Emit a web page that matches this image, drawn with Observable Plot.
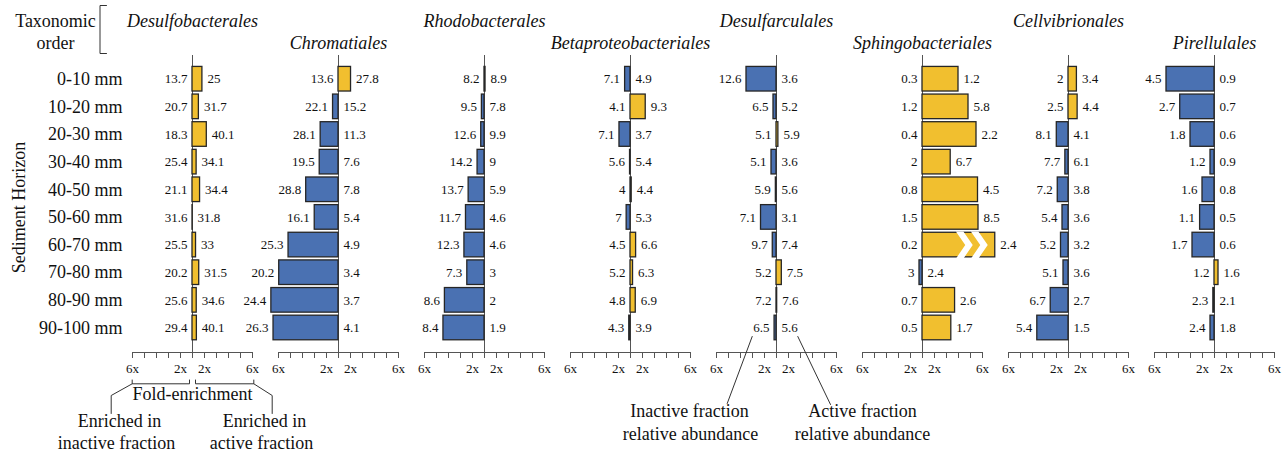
<!DOCTYPE html>
<html><head><meta charset="utf-8">
<script src="https://cdn.jsdelivr.net/npm/d3@7"></script>
<script src="https://cdn.jsdelivr.net/npm/@observablehq/plot@0.6"></script>
<style>body{margin:0;background:#fff}</style>
</head><body><div id="chart"></div>
<script>
// ---- data ----
const orders = ["Desulfobacterales","Chromatiales","Rhodobacterales","Betaproteobacteriales","Desulfarculales","Sphingobacteriales","Cellvibrionales","Pirellulales"];
const horizons = ["0-10 mm","10-20 mm","20-30 mm","30-40 mm","40-50 mm","50-60 mm","60-70 mm","70-80 mm","80-90 mm","90-100 mm"];
// relative abundance (%) in the inactive fraction, one list per order
const inactiveFraction = [
  [13.7,20.7,18.3,25.4,21.1,31.6,25.5,20.2,25.6,29.4],
  [13.6,22.1,28.1,19.5,28.8,16.1,25.3,20.2,24.4,26.3],
  [8.2,9.5,12.6,14.2,13.7,11.7,12.3,7.3,8.6,8.4],
  [7.1,4.1,7.1,5.6,4,7,4.5,5.2,4.8,4.3],
  [12.6,6.5,5.1,5.1,5.9,7.1,9.7,5.2,7.2,6.5],
  [0.3,1.2,0.4,2,0.8,1.5,0.2,3,0.7,0.5],
  [2,2.5,8.1,7.7,7.2,5.4,5.2,5.1,6.7,5.4],
  [4.5,2.7,1.8,1.2,1.6,1.1,1.7,1.2,2.3,2.4]
];
// relative abundance (%) in the active fraction, one list per order
const activeFraction = [
  [25,31.7,40.1,34.1,34.4,31.8,33,31.5,34.6,40.1],
  [27.8,15.2,11.3,7.6,7.8,5.4,4.9,3.4,3.7,4.1],
  [8.9,7.8,9.9,9,5.9,4.6,4.6,3,2,1.9],
  [4.9,9.3,3.7,5.4,4.4,5.3,6.6,6.3,6.9,3.9],
  [3.6,5.2,5.9,3.6,5.6,3.1,7.4,7.5,7.6,5.6],
  [1.2,5.8,2.2,6.7,4.5,8.5,2.4,2.4,2.6,1.7],
  [3.4,4.4,4.1,6.1,3.8,3.6,3.2,3.6,2.7,1.5],
  [0.9,0.7,0.6,0.9,0.8,0.5,0.6,1.6,2.1,1.8]
];
// fold-enrichment axis: signed (fold - 1)
const foldTicks = [-5,-4,-3,-2,-1,0,1,2,3,4,5];
const foldTickLabels = ["6x","","","","2x","","2x","","","","6x"];

// ---- layout ----
const W = 1288, H = 454, mL = 119, mR = 1, mT = 55, mB = 102;
const facetW = (W - mL - mR) / orders.length;
const pxPerFold = 12;
const xHalf = facetW / 2 / pxPerFold;
const rowTop = 64.9, rowStep = 27.64;
const yRange = [rowTop, rowTop + rowStep * horizons.length];
const CAP = xHalf - 0.02;
const yellow = "#F1BF2F", blue = "#4A71B2", barStroke = "#262626", axisColor = "#555";
const font = "'Liberation Serif','Times New Roman',serif";

const xd = (px, k) => (px - (mL + k * facetW + facetW / 2)) / pxPerFold;
const yd = (py) => (py - rowTop) / rowStep - 0.5;

// ---- derived table ----
const rows = [];
orders.forEach((o, k) => horizons.forEach((h, i) => {
  const a = activeFraction[k][i], n = inactiveFraction[k][i];
  const up = a >= n;
  const fold = up ? a / n : n / a;
  const s = (up ? 1 : -1) * (fold - 1);
  const sd = Math.max(-CAP, Math.min(CAP, s));
  rows.push({order: o, i, horizon: h, inactive: n, active: a, s, sd, broken: Math.abs(s) > CAP});
}));
const chevrons = rows.filter(d => d.broken).flatMap(d => [2.58, 1.33].map(off => ({order: d.order, i: d.i, x: d.sd - Math.sign(d.sd) * off})));
const tickRows = orders.flatMap(o => foldTicks.map((v, j) => ({order: o, v, label: foldTickLabels[j]})));

const chevronSymbol = {draw(ctx, size) {
  const r = Math.sqrt(size / Math.PI);
  const h = r, w = r * 0.62, t = r * 0.55;
  ctx.moveTo(-w, -h); ctx.lineTo(-w + t, -h); ctx.lineTo(w, 0);
  ctx.lineTo(-w + t, h); ctx.lineTo(-w, h); ctx.lineTo(w - t, 0); ctx.closePath();
}};

// ---- annotations (pixel positions converted to facet data units) ----
const annoText = [
  {k:0, px:55, py:20.5, text:"Taxonomic"},
  {k:0, px:55, py:43, text:"order"},
  {k:0, px:192, py:394, text:"Fold-enrichment"},
  {k:0, px:119, py:421, text:"Enriched in"},
  {k:0, px:116, py:443, text:"inactive fraction"},
  {k:0, px:264, py:421, text:"Enriched in"},
  {k:0, px:261, py:443, text:"active fraction"},
  {k:4, px:689, py:411, text:"Inactive fraction"},
  {k:4, px:690, py:434, text:"relative abundance"},
  {k:4, px:862, py:411, text:"Active fraction"},
  {k:4, px:862, py:434, text:"relative abundance"}
].map(d => ({order: orders[d.k], x: xd(d.px, d.k), y: yd(d.py), text: d.text}));
const annoPaths = [
  {k:0, pts:[[106,5],[99.5,5],[99.5,53],[106,53]]},
  {k:0, pts:[[131.7,379.5],[131.7,383.3],[189,383.3],[189,379.5]]},
  {k:0, pts:[[195,379.5],[195,383.3],[253.3,383.3],[253.3,379.5]]},
  {k:0, pts:[[131.7,383.3],[110.7,395],[110.7,413]]},
  {k:0, pts:[[253.3,383.3],[271.7,395],[271.7,413]]},
  {k:4, pts:[[751.7,336],[726.7,403]]},
  {k:4, pts:[[797.3,336],[830,404]]}
].flatMap((p, id) => p.pts.map(([px, py]) => ({id, order: orders[p.k], x: xd(px, p.k), y: yd(py)})));

const chart = Plot.plot({
  width: W, height: H,
  marginLeft: mL, marginRight: mR, marginTop: mT, marginBottom: mB,
  style: {fontFamily: font, fontSize: "13px", color: "#111", background: "#fff", overflow: "visible"},
  fx: {domain: orders, padding: 0, axis: null},
  x: {domain: [-xHalf, xHalf], axis: null},
  y: {domain: [-0.5, horizons.length - 0.5], range: yRange, axis: null},
  marks: [
    // axis baseline + ticks + labels
    Plot.ruleY(orders, {fx: d => d, y: yd(352), x1: foldTicks[0], x2: foldTicks[foldTicks.length - 1], stroke: axisColor, strokeWidth: 1}),
    Plot.ruleX(tickRows, {fx: "order", x: "v", y1: yd(352), y2: yd(358), stroke: axisColor, strokeWidth: 1}),
    Plot.text(tickRows, {fx: "order", x: "v", y: yd(368), text: "label", fontSize: 13}),
    // centre line
    Plot.ruleX(orders, {fx: d => d, x: 0, y1: yd(55), y2: yd(352), stroke: axisColor, strokeWidth: 1}),
    // bars
    Plot.rectX(rows, {fx: "order", x1: 0, x2: "sd", y1: d => d.i - 0.445, y2: d => d.i + 0.445,
      fill: d => d.s > 0 ? yellow : blue, stroke: barStroke, strokeWidth: 1.3}),
    Plot.dot(chevrons, {fx: "order", x: "x", y: "i", symbol: chevronSymbol, r: 13.6, fill: "white", stroke: "none"}),
    // values
    Plot.text(rows, {fx: "order", x: d => Math.min(0, d.sd), y: "i", text: d => String(d.inactive), textAnchor: "end", dx: -5, fontSize: 13}),
    Plot.text(rows, {fx: "order", x: d => Math.max(0, d.sd), y: "i", text: d => String(d.active), textAnchor: "start", dx: 5, fontSize: 13}),
    // order titles (staggered)
    Plot.text(orders, {fx: d => d, x: 0, y: d => orders.indexOf(d) % 2 ? yd(43) : yd(20.5), text: d => d, fontStyle: "italic", fontSize: 18}),
    // horizon labels
    Plot.text(horizons, {fx: () => orders[0], x: xd(122, 0), y: (d, i) => i, text: d => d, textAnchor: "end", fontSize: 18}),
    Plot.text(["Sediment Horizon"], {fx: () => orders[0], x: xd(19, 0), y: yd(207), text: d => d, rotate: -90, fontSize: 18}),
    // annotations
    Plot.text(annoText, {fx: "order", x: "x", y: "y", text: "text", fontSize: 18}),
    Plot.line(annoPaths, {fx: "order", x: "x", y: "y", z: "id", stroke: "#333", strokeWidth: 1, curve: "linear"})
  ]
});
document.getElementById("chart").appendChild(chart);
</script>
</body></html>
